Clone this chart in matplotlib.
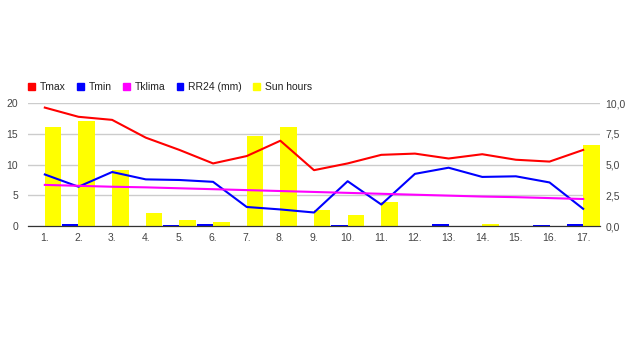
import matplotlib
matplotlib.use('Agg')
import matplotlib.pyplot as plt
from matplotlib.patches import Patch
import numpy as np

plt.rcParams['font.family'] = ['Liberation Sans', 'DejaVu Sans']

# days of the month
days = ['1.', '2.', '3.', '4.', '5.', '6.', '7.', '8.', '9.', '10.',
        '11.', '12.', '13.', '14.', '15.', '16.', '17.']
# temperatures (left axis)
tmax = [19.3, 17.8, 17.3, 14.4, 12.4, 10.2, 11.4, 13.9, 9.1, 10.2,
        11.6, 11.8, 11.0, 11.7, 10.8, 10.5, 12.4]
tmin = [8.4, 6.4, 8.8, 7.6, 7.5, 7.2, 3.1, 2.7, 2.2, 7.3,
        3.5, 8.5, 9.5, 8.0, 8.1, 7.1, 2.8]
tklima = [6.7, 6.55, 6.4, 6.3, 6.15, 6.0, 5.85, 5.7, 5.55, 5.4,
          5.25, 5.1, 4.95, 4.8, 4.7, 4.55, 4.4]
# bars (right axis)
rr24 = [0.0, 0.14, 0.0, 0.0, 0.08, 0.14, 0.0, 0.0, 0.0, 0.12,
        0.0, 0.0, 0.14, 0.0, 0.0, 0.06, 0.14]
sun_hours = [8.07, 8.56, 4.6, 1.06, 0.49, 0.33, 7.33, 8.07, 1.3, 0.9,
             1.96, 0.0, 0.0, 0.13, 0.0, 0.0, 6.6]
left_ticks = [0, 5, 10, 15, 20]
right_ticks = [0, 2.5, 5, 7.5, 10]

txt = '#444444'
fs = 7.5
fig = plt.figure(figsize=(6.36, 3.59), dpi=100)
ax = fig.add_axes([28/636, 133/359, 572/636, 122.7/359])
ax2 = ax.twinx()
ax.set_zorder(ax2.get_zorder() + 1)
ax.patch.set_visible(False)

x = np.arange(len(days))
w = 0.49
ax2.bar(x - w/2, rr24, w, color='#0000ff', zorder=2)
ax2.bar(x + w/2, sun_hours, w, color='#ffff00', zorder=2)
ax2.set_ylim(0, 10)
ax2.set_yticks(right_ticks)
ax2.set_yticklabels([('%.1f' % v).replace('.', ',') for v in right_ticks])
ax2.grid(axis='y', color='#cccccc', lw=1, zorder=0)
ax2.set_axisbelow(True)

ax.plot(x, tmax, color='#ff0000', lw=1.5)
ax.plot(x, tmin, color='#0000ff', lw=1.5)
ax.plot(x, tklima, color='#ff00ff', lw=1.5)
ax.set_ylim(0, 20)
ax.set_yticks(left_ticks)
ax.set_xlim(-0.5, len(days) - 0.5)
ax.set_xticks(x)
ax.set_xticklabels(days)

for a in (ax, ax2):
    for s in ['top', 'left', 'right']:
        a.spines[s].set_visible(False)
    a.spines['bottom'].set_color('#333333')
    a.tick_params(length=0, labelsize=fs, labelcolor=txt)
ax.tick_params(axis='y', pad=7)
ax2.tick_params(axis='y', pad=4)
ax.tick_params(axis='x', pad=5)

handles = [Patch(color='#ff0000'), Patch(color='#0000ff'), Patch(color='#ff00ff'),
           Patch(color='#0000ff'), Patch(color='#ffff00')]
labels = ['Tmax', 'Tmin', 'Tklima', 'RR24 (mm)', 'Sun hours']
fig.legend(handles, labels, loc='center left', bbox_to_anchor=(20/636, 1 - 87/359),
           ncol=5, frameon=False, fontsize=fs, handlelength=0.65, handleheight=0.65,
           handletextpad=0.45, columnspacing=1.1, borderpad=0.3, labelcolor='#222222')

fig.savefig('out.png', dpi=100)
